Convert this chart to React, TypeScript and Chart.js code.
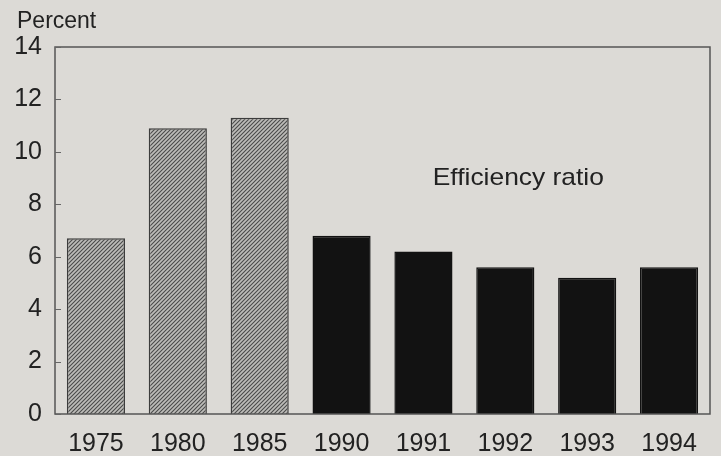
import React, { useEffect, useRef } from "react";
import { Chart, registerables } from "chart.js";

Chart.register(...registerables);

const categories = ["1975", "1980", "1985", "1990", "1991", "1992", "1993", "1994"];
const ratioValues = [6.7, 10.9, 11.3, 6.8, 6.2, 5.6, 5.2, 5.6];
const hatched = [true, true, true, false, false, false, false, false];
const yTicks = [0, 2, 4, 6, 8, 10, 12, 14];
const yAxisLabel = "Percent";
const annotationText = "Efficiency ratio";

const BG = "#dcdad6";
const FONT = "'Liberation Sans', Arial, Helvetica, sans-serif";

function makeHatch(): CanvasPattern | string {
  const c = document.createElement("canvas");
  c.width = 4;
  c.height = 4;
  const g = c.getContext("2d");
  if (!g) return "#999";
  g.fillStyle = "#bdbcb9";
  g.fillRect(0, 0, 4, 4);
  g.strokeStyle = "#4a4a4a";
  g.lineWidth = 1.1;
  g.beginPath();
  g.moveTo(-1, 5);
  g.lineTo(5, -1);
  g.moveTo(-1, 1);
  g.lineTo(1, -1);
  g.moveTo(3, 5);
  g.lineTo(5, 3);
  g.stroke();
  return g.createPattern(c, "repeat") || "#999";
}

const overlay = {
  id: "overlay",
  afterDraw(chart: any) {
    const { ctx, chartArea, scales } = chart;
    const y = scales.y;
    const x = scales.x;
    ctx.save();
    // frame
    ctx.strokeStyle = "#555";
    ctx.lineWidth = 1.5;
    ctx.strokeRect(chartArea.left, chartArea.top, chartArea.right - chartArea.left, chartArea.bottom - chartArea.top);
    // inward ticks
    ctx.lineWidth = 1;
    ctx.strokeStyle = "#666";
    yTicks.forEach((v) => {
      const py = Math.round(y.getPixelForValue(v)) + 0.5;
      ctx.beginPath();
      ctx.moveTo(chartArea.left, py);
      ctx.lineTo(chartArea.left + 6, py);
      ctx.stroke();
    });
    // texts
    ctx.fillStyle = "#222";
    ctx.font = `23px ${FONT}`;
    ctx.textBaseline = "alphabetic";
    ctx.textAlign = "left";
    ctx.fillText(yAxisLabel, 17, 28);
    // annotation, slightly stretched horizontally
    const cx = x.getPixelForValue(5) + 13;
    const by = y.getPixelForValue(8.74);
    ctx.translate(cx, by);
    ctx.scale(1.1, 1);
    ctx.textAlign = "center";
    ctx.font = `24px ${FONT}`;
    ctx.fillText(annotationText, 0, 0);
    ctx.restore();
  },
};

export default function App() {
  const ref = useRef<HTMLCanvasElement>(null);
  useEffect(() => {
    if (!ref.current) return;
    const pattern = makeHatch();
    const chart = new Chart(ref.current, {
      type: "bar",
      data: {
        labels: categories,
        datasets: [
          {
            label: annotationText,
            data: ratioValues,
            backgroundColor: hatched.map((h) => (h ? pattern : "#121212")) as any,
            borderColor: hatched.map((h) => (h ? "#3c3c3c" : "#121212")),
            borderWidth: 1.5,
            categoryPercentage: 0.71,
            barPercentage: 1,
          },
        ],
      },
      options: {
        animation: false,
        responsive: false,
        maintainAspectRatio: false,
        layout: { padding: { left: 0, right: 11, top: 47, bottom: 0 } },
        plugins: { legend: { display: false }, tooltip: { enabled: false }, title: { display: false } },
        scales: {
          x: {
            grid: { display: false, drawTicks: false },
            border: { display: false },
            ticks: { color: "#222", font: { family: FONT, size: 25 }, padding: 15, maxRotation: 0, autoSkip: false },
            afterFit: (s: any) => {
              s.height = 42;
            },
          },
          y: {
            min: 0,
            max: 14,
            grid: { display: false, drawTicks: false },
            border: { display: false },
            ticks: { stepSize: 2, color: "#222", font: { family: FONT, size: 25 }, padding: 13 },
            afterFit: (s: any) => {
              s.width = 55;
            },
          },
        },
      },
      plugins: [overlay],
    });
    return () => chart.destroy();
  }, []);
  return (
    <div style={{ position: "fixed", left: 0, top: 0, width: 721, height: 456, background: BG }}>
      <canvas ref={ref} width={721} height={456} style={{ display: "block" }} />
    </div>
  );
}
